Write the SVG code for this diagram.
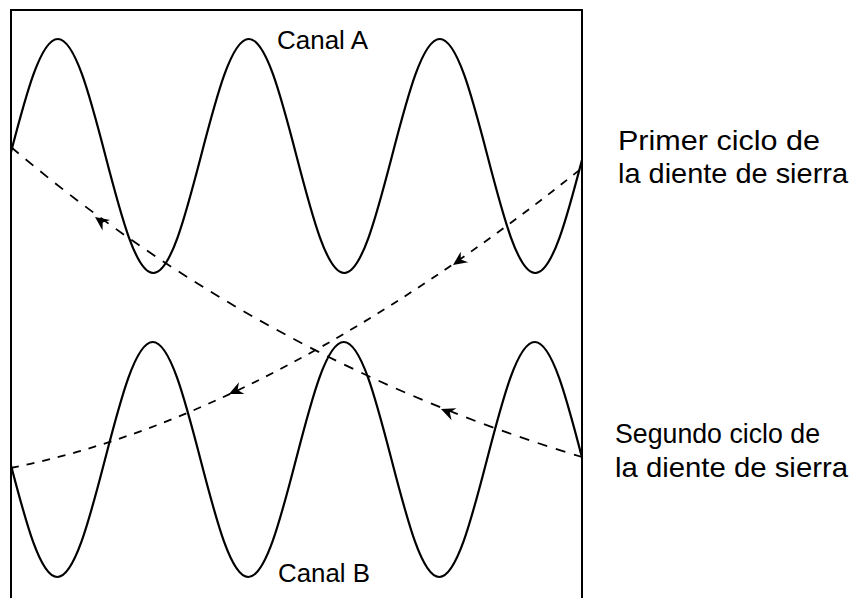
<svg xmlns="http://www.w3.org/2000/svg" width="855" height="598" viewBox="0 0 855 598">
<style>
.frame{fill:none;stroke:#000;stroke-width:2}
.wave{fill:none;stroke:#000;stroke-width:2.2;stroke-linejoin:round}
.saw{fill:none;stroke:#000;stroke-width:1.8}
.d1{stroke-dasharray:10 9}
.d2{stroke-dasharray:8 8}
.lbl{font-family:"Liberation Sans",Arial,sans-serif;fill:#000}
</style>
<defs>
<clipPath id="box"><rect x="11" y="10" width="571" height="588"/></clipPath>
<path id="ah" d="M0,0 L-14,-6.5 L-9.5,0 L-14,6.5 Z" fill="#000"/>
</defs>
<rect width="855" height="598" fill="#fff"/>
<g id="frame"><path class="frame" d="M11,598 V10 H582 V598"/></g>
<g id="canal-a-wave" clip-path="url(#box)">
<path class="wave" d="M10,156 c15.96,-61.44 30.65,-117 47.75,-117 c17.1,0 31.79,55.56 47.75,117 c15.96,61.44 30.65,117 47.75,117 c17.1,0 31.79,-55.56 47.75,-117 c15.96,-61.44 30.65,-117 47.75,-117 c17.1,0 31.79,55.56 47.75,117 c15.96,61.44 30.65,117 47.75,117 c17.1,0 31.79,-55.56 47.75,-117 c15.96,-61.44 30.65,-117 47.75,-117 c17.1,0 31.79,55.56 47.75,117 c15.96,61.44 30.65,117 47.75,117 c17.1,0 31.79,-55.56 47.75,-117"/>
</g>
<g id="canal-b-wave" clip-path="url(#box)">
<path class="wave" d="M9.5,459.5 c15.96,61.7 30.65,117.5 47.75,117.5 c17.1,0 31.79,-55.8 47.75,-117.5 c15.96,-61.7 30.65,-117.5 47.75,-117.5 c17.1,0 31.79,55.8 47.75,117.5 c15.96,61.7 30.65,117.5 47.75,117.5 c17.1,0 31.79,-55.8 47.75,-117.5 c15.96,-61.7 30.65,-117.5 47.75,-117.5 c17.1,0 31.79,55.8 47.75,117.5 c15.96,61.7 30.65,117.5 47.75,117.5 c17.1,0 31.79,-55.8 47.75,-117.5 c15.96,-61.7 30.65,-117.5 47.75,-117.5 c17.1,0 31.79,55.8 47.75,117.5"/>
</g>
<g id="connectors">
<path class="saw d1" d="M11,147 Q263,361 582,457"/>
<path class="saw d2" d="M11,468 Q272,416 582,168"/>
<use href="#ah" transform="translate(95,217) rotate(216)"/>
<use href="#ah" transform="translate(441,409) rotate(202)"/>
<use href="#ah" transform="translate(229,394) rotate(155)"/>
<use href="#ah" transform="translate(453,265) rotate(145)"/>
</g>
<g id="label-canal-a"><text class="lbl" x="277" y="49" font-size="26" textLength="91" lengthAdjust="spacingAndGlyphs">Canal A</text></g>
<g id="label-canal-b"><text class="lbl" x="278" y="582" font-size="26" textLength="92" lengthAdjust="spacingAndGlyphs">Canal B</text></g>
<g id="label-primer">
<text class="lbl" x="618" y="150" font-size="28" textLength="202" lengthAdjust="spacingAndGlyphs">Primer ciclo de</text>
<text class="lbl" x="618" y="183" font-size="28" textLength="230" lengthAdjust="spacingAndGlyphs">la diente de sierra</text>
</g>
<g id="label-segundo">
<text class="lbl" x="615" y="443" font-size="28" textLength="205" lengthAdjust="spacingAndGlyphs">Segundo ciclo de</text>
<text class="lbl" x="615" y="477" font-size="28" textLength="233" lengthAdjust="spacingAndGlyphs">la diente de sierra</text>
</g>
</svg>
